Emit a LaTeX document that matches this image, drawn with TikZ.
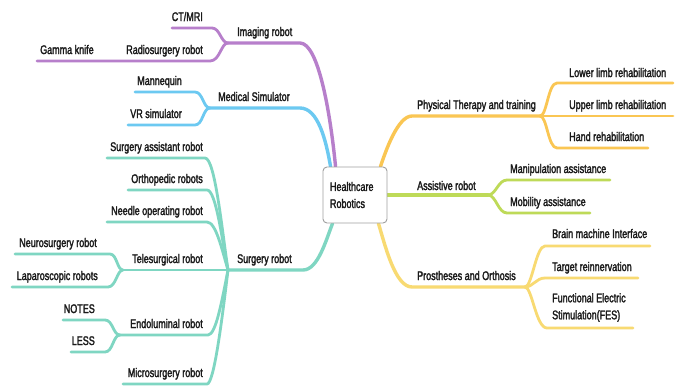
\documentclass[tikz,border=0pt]{standalone}
\usepackage{fontspec}
\setmainfont{Liberation Sans}[FakeStretch=0.72,FakeBold=2]
\usetikzlibrary{calc,backgrounds}
\pgfdeclarelayer{bottom}
\pgfdeclarelayer{background}
\pgfsetlayers{bottom,background,main}
\definecolor{cPur}{HTML}{B77FCB}
\definecolor{cBlu}{HTML}{6CC9F1}
\definecolor{cTea}{HTML}{7FD6C2}
\definecolor{cOra}{HTML}{FAC653}
\definecolor{cLim}{HTML}{BEDA58}
\definecolor{cYel}{HTML}{F8DA72}
\definecolor{cTxt}{HTML}{1A1A1A}
\tikzset{
  lbl/.style={inner sep=0pt, text=cTxt, font=\fontsize{12.5}{17}\selectfont},
  lblL/.style={lbl, anchor=base east},
  lblR/.style={lbl, anchor=base west},
  mainline/.style={line width=3.4pt, line cap=round, line join=round},
  subline/.style={line width=2.8pt, line cap=round, line join=round},
  hubbox/.style={draw=gray!75, line width=0.9pt, rounded corners=4pt, fill=white,
     minimum width=64pt, minimum height=56pt, text width=50pt, align=left, inner sep=0pt,
     text=cTxt, font=\fontsize{12.5}{17}\selectfont}
}
\begin{document}
\begin{tikzpicture}[x=1pt,y=-1pt]
\begin{pgfonlayer}{bottom}
\fill[white] (0,0) rectangle (681,389);
\end{pgfonlayer}
\useasboundingbox (0,0) rectangle (681,389);

% hub
\node[hubbox] (hub) at (355,195) {Healthcare\\Robotics};

% labels - left
\node[lblL] (ct) at (203,21) {CT/MRI};
\node[lblR] (gk) at (40,54) {Gamma knife};
\node[lblL] (rad) at (203,54) {Radiosurgery robot};
\node[lblR] (img) at (237,36) {Imaging robot};
\node[lblL] (man) at (182,85) {Mannequin};
\node[lblL] (vr) at (182,118) {VR simulator};
\node[lblR] (sim) at (218,101) {Medical Simulator};
\node[lblL] (sa) at (203,151) {Surgery assistant robot};
\node[lblL] (orth) at (203,183) {Orthopedic robots};
\node[lblL] (need) at (203,215) {Needle operating robot};
\node[lblL] (neu) at (97,247) {Neurosurgery robot};
\node[lblL] (tel) at (203,263) {Telesurgical robot};
\node[lblR] (sur) at (237,263) {Surgery robot};
\node[lblL] (lap) at (98,280) {Laparoscopic robots};
\node[lblL] (notes) at (95,313) {NOTES};
\node[lblL] (endo) at (203,328) {Endoluminal robot};
\node[lblL] (less) at (95,345) {LESS};
\node[lblL] (micro) at (203,377) {Microsurgery robot};
% labels - right
\node[lblR] (phy) at (417,109) {Physical Therapy and training};
\node[lblR] (low) at (569,77) {Lower limb rehabilitation};
\node[lblR] (upp) at (569,109) {Upper limb rehabilitation};
\node[lblR] (hand) at (569,141) {Hand rehabilitation};
\node[lblR] (ass) at (417,190) {Assistive robot};
\node[lblR] (mani) at (510,173) {Manipulation assistance};
\node[lblR] (mob) at (510,206) {Mobility assistance};
\node[lblR] (pro) at (417,280) {Prostheses and Orthosis};
\node[lblR] (bmi) at (552,238) {Brain machine Interface};
\node[lblR] (tr) at (552,271) {Target reinnervation};
\node[lbl, anchor=north west, align=left] (fes) at (552,293) {Functional Electric\\Stimulation(FES)};

% branch points and free ends
\coordinate (bImg) at (228,43);
\coordinate (bSim) at (210,108);
\coordinate (bSur) at (228,270);
\coordinate (bTel) at (123,270);
\coordinate (bEnd) at (120,335);
\coordinate (bPhy) at (540,116);
\coordinate (bAss) at (488,195);
\coordinate (bPro) at (525,287);
\coordinate (hP) at ($(hub.north west)+(13,0)$);
\coordinate (hB) at ($(hub.north west)+(8,0)$);
\coordinate (hT) at ($(hub.south west)+(10,0)$);
\coordinate (hO) at ($(hub.north east)+(-7,0)$);
\coordinate (hL) at (hub.east);
\coordinate (hY) at ($(hub.south east)+(-9,0)$);
\coordinate (eCt) at (172,28);
\coordinate (eGk) at (37,61);
\coordinate (eMan) at (135,92);
\coordinate (eVr) at (128,125);
\coordinate (eSa) at (107,158);
\coordinate (eOrth) at (128,190);
\coordinate (eNeed) at (107,222);
\coordinate (eNeu) at (15,254);
\coordinate (eLap) at (12,287);
\coordinate (eNotes) at (63,320);
\coordinate (eLess) at (71,352);
\coordinate (eMicro) at (123,384);
\coordinate (eLow) at (673,83);
\coordinate (eUpp) at (673,116);
\coordinate (eHand) at (648,148);
\coordinate (eMani) at (610,180);
\coordinate (eMob) at (590,213);
\coordinate (eBmi) at (650,246);
\coordinate (eTr) at (638,278);
\coordinate (eFes) at (633,328);

\begin{pgfonlayer}{background}
% purple
\draw[mainline, cPur] (bImg) -- (300,43) .. controls (318,43) and (330,110) .. (hP);
\draw[subline, cPur] (eCt) -- (212,28) .. controls (220,28) and (221,43) .. (bImg);
\draw[subline, cPur] (eGk) -- (210,61) .. controls (220,61) and (221,43) .. (bImg);
% blue
\draw[mainline, cBlu] (bSim) -- (300,108) .. controls (318,108) and (326,140) .. (hB);
\draw[subline, cBlu] (eMan) -- (195,92) .. controls (203,92) and (203,108) .. (bSim);
\draw[subline, cBlu] (eVr) -- (195,125) .. controls (203,125) and (203,108) .. (bSim);
% teal
\draw[mainline, cTea] (bSur) -- (303,270) .. controls (318,270) and (326,240) .. (hT);
\draw[subline, cTea] (eSa) -- (205,158) .. controls (215,158) and (222,230) .. (bSur);
\draw[subline, cTea] (eOrth) -- (207,190) .. controls (216,190) and (222,240) .. (bSur);
\draw[subline, cTea] (eNeed) -- (207,222) .. controls (216,222) and (222,250) .. (bSur);
\draw[subline, cTea] (bTel) -- (bSur);
\draw[subline, cTea] (eNeu) -- (110,254) .. controls (117,254) and (117,270) .. (bTel);
\draw[subline, cTea] (eLap) -- (108,287) .. controls (116,287) and (117,270) .. (bTel);
\draw[subline, cTea] (bEnd) -- (208,335) .. controls (216,335) and (222,300) .. (bSur);
\draw[subline, cTea] (eNotes) -- (105,320) .. controls (113,320) and (113,335) .. (bEnd);
\draw[subline, cTea] (eLess) -- (105,352) .. controls (113,352) and (113,335) .. (bEnd);
\draw[subline, cTea] (eMicro) -- (207,384) .. controls (214,384) and (222,320) .. (bSur);
% orange
\draw[mainline, cOra] (bPhy) -- (412,116) .. controls (398,116) and (386,150) .. (hO);
\draw[subline, cOra] (eLow) -- (557,83) .. controls (548,83) and (547,116) .. (bPhy);
\draw[subline, cOra] (eUpp) -- (bPhy);
\draw[subline, cOra] (eHand) -- (557,148) .. controls (548,148) and (547,116) .. (bPhy);
% lime
\draw[mainline, cLim] (hL) -- (bAss);
\draw[subline, cLim] (eMani) -- (507,180) .. controls (498,180) and (496,195) .. (bAss);
\draw[subline, cLim] (eMob) -- (507,213) .. controls (498,213) and (496,195) .. (bAss);
% yellow
\draw[mainline, cYel] (hY) .. controls (385,245) and (395,287) .. (412,287) -- (bPro);
\draw[subline, cYel] (eBmi) -- (545,246) .. controls (536,246) and (532,287) .. (bPro);
\draw[subline, cYel] (eTr) -- (545,278) .. controls (536,278) and (533,287) .. (bPro);
\draw[subline, cYel] (eFes) -- (547,328) .. controls (536,328) and (532,287) .. (bPro);
\end{pgfonlayer}
\end{tikzpicture}
\end{document}
